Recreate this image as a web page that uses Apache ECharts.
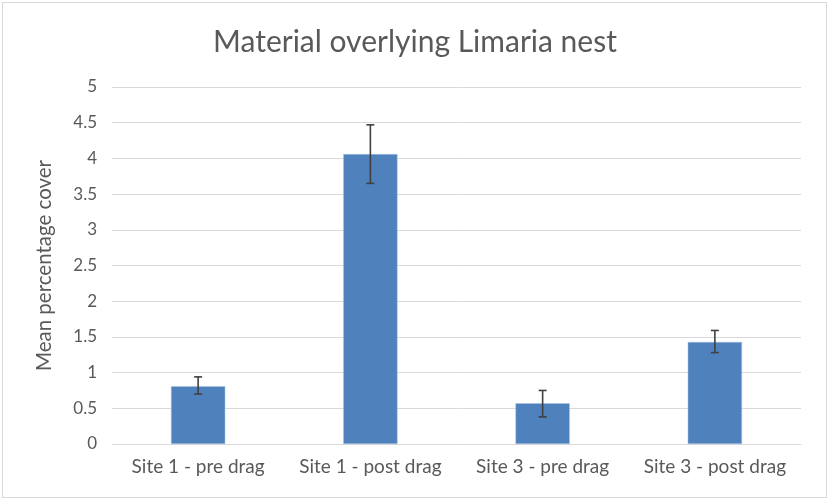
<!DOCTYPE html>
<html>
<head>
<meta charset="utf-8">
<script src="https://cdn.jsdelivr.net/npm/echarts@6/dist/echarts.min.js"></script>
<style>
  html, body { margin: 0; padding: 0; background: #fff; }
  #frame { position: absolute; left: 2px; top: 2px; width: 823px; height: 494px; border: 1.5px solid #d9d9d9; background: #fff; }
  #chart { width: 830px; height: 501px; position: absolute; left: 0; top: 0; }
</style>
</head>
<body>
<div id="frame"></div>
<div id="chart"></div>
<script>
var categories = ['Site 1 - pre drag', 'Site 1 - post drag', 'Site 3 - pre drag', 'Site 3 - post drag'];
var means = [0.81, 4.06, 0.57, 1.43];
var errLow = [0.70, 3.65, 0.38, 1.28];
var errHigh = [0.94, 4.47, 0.75, 1.59];

var chart = echarts.init(document.getElementById('chart'), null, { renderer: 'canvas' });
var font = 'Lato, "Open Sans", sans-serif';

chart.setOption({
  animation: false,
  title: {
    text: 'Material overlying Limaria nest',
    left: 'center',
    top: 22,
    textStyle: { color: '#595959', fontSize: 30, fontWeight: 'normal', fontFamily: font }
  },
  grid: { left: 112, right: 29, top: 87, bottom: 57 },
  xAxis: {
    type: 'category',
    data: categories,
    axisLine: { lineStyle: { color: '#d9d9d9', width: 1 } },
    axisTick: { show: false },
    axisLabel: { color: '#595959', fontSize: 19, fontFamily: font, margin: 13, interval: 0 }
  },
  yAxis: {
    type: 'value',
    min: 0,
    max: 5,
    interval: 0.5,
    name: 'Mean percentage cover',
    nameLocation: 'middle',
    nameGap: 57,
    nameTextStyle: { color: '#595959', fontSize: 20.5, fontFamily: font },
    axisLine: { show: false },
    axisTick: { show: false },
    splitLine: { lineStyle: { color: '#d9d9d9', width: 1 } },
    axisLabel: { color: '#595959', fontSize: 17, fontFamily: font, margin: 15 }
  },
  series: [
    {
      type: 'bar',
      data: means,
      barWidth: '31.5%',
      itemStyle: { color: '#4f81bd', borderColor: '#a9c4e4', borderWidth: 0.5 }
    },
    {
      type: 'custom',
      data: categories.map(function(c, i) { return [i, errLow[i], errHigh[i]]; }),
      z: 10,
      renderItem: function(params, api) {
        var lo = api.coord([api.value(0), api.value(1)]);
        var hi = api.coord([api.value(0), api.value(2)]);
        var cap = 8;
        var st = { stroke: '#404040', lineWidth: 1.6 };
        return {
          type: 'group',
          children: [
            { type: 'line', shape: { x1: hi[0], y1: hi[1], x2: lo[0], y2: lo[1] }, style: st },
            { type: 'line', shape: { x1: hi[0] - cap / 2, y1: hi[1], x2: hi[0] + cap / 2, y2: hi[1] }, style: st },
            { type: 'line', shape: { x1: lo[0] - cap / 2, y1: lo[1], x2: lo[0] + cap / 2, y2: lo[1] }, style: st }
          ]
        };
      }
    }
  ]
});

window.addEventListener('resize', function() { chart.resize(); });
</script>
</body>
</html>
